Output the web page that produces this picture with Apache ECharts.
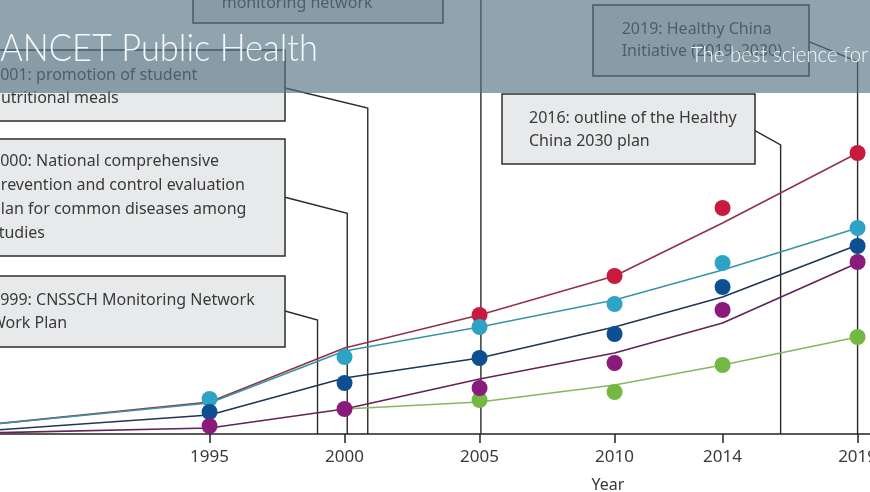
<!DOCTYPE html>
<html><head><meta charset="utf-8">
<script src="https://cdn.jsdelivr.net/npm/echarts@6/dist/echarts.min.js"></script>
<style>html,body{margin:0;padding:0;background:#fff;overflow:hidden}#c{width:870px;height:492px}</style>
</head><body><div id="c"></div>
<script>
// ---- data (hidden y unit: arbitrary, 0 at the axis) ----
const lineYears = [1985, 1995, 2000, 2005, 2010, 2014, 2019];
const redLine    = [0.45, 3.2, 8.6, 11.9, 15.8, 21.1, 28.1];
const cyanLine   = [0.45, 3.1, 8.3, 10.7, 13.4, 16.4, 20.6];
const navyLine   = [0.0, 1.9, 5.6, 7.6, 10.7, 13.7, 18.9];
const purpleLine = [0.0, 0.6, 2.5, 5.5, 8.1, 11.1, 17.1];
const greenLine  = [null, null, 2.5, 3.2, 4.9, 6.9, 9.7];

const dotYears   = [1995, 2000, 2005, 2010, 2014, 2019];
const redDots    = [null, null, 11.9, 15.8, 22.6, 28.1];
const cyanDots   = [3.5, 7.7, 10.7, 13.0, 17.1, 20.6];
const navyDots   = [2.2, 5.1, 7.6, 10.0, 14.7, 18.8];
const purpleDots = [0.8, 2.5, 4.6, 7.1, 12.4, 17.2];
const greenDots  = [null, null, 3.4, 4.2, 6.9, 9.7];

const tickYears = [1995, 2000, 2005, 2010, 2014, 2019];
const axisName = 'Year';

const eventTexts = [
  ['1999: CNSSCH Monitoring Network', 'Work Plan'],
  ['2000: National comprehensive', 'prevention and control evaluation', 'plan for common diseases among', 'studies'],
  ['2001: promotion of student', 'nutritional meals'],
  ['monitoring network'],
  ['2016: outline of the Healthy', 'China 2030 plan'],
  ['2019: Healthy China', 'Initiative (2019\u20132030)']
];
// where each event's leader drops to the axis (x in years, as drawn)
const eventAnchorYears = [1999, 2000.1, 2000.86, 2005.05, 2016.15, 2019];

const headerTitle = 'LANCET Public Health';
const headerTag = 'The best science for';

// ---- layout / styles ----
const FONT = '"Noto Sans", "Open Sans", sans-serif';
const boxLayout = [
  {x:-12, y:276, w:297, h:71,  tx:-9,    ty:300,   lh:23.4, from:[285,311],   bend:320},
  {x:-12, y:139, w:297, h:117, tx:-9,    ty:161.7, lh:23.9, from:[285,197.3], bend:213.3},
  {x:-12, y:50,  w:297, h:71,  tx:-9,    ty:75,    lh:23.4, from:[285,88],    bend:108},
  {x:193, y:-60, w:250, h:83,  tx:221.7, ty:3,     lh:23.4, from:null,        bend:-10},
  {x:502, y:94,  w:253, h:70,  tx:529,   ty:118.3, lh:23.4, from:[755,130.7], bend:145},
  {x:593, y:5,   w:216, h:71,  tx:621.7, ty:29.3,  lh:22.4, from:[809,41.7],  bend:61.7}
];

function pairs(xs, ys){ return xs.map((x,i)=>[x, ys[i]]).filter(p=>p[1]!=null); }
function lineSeries(name, ys, color){
  return {name, type:'line', data:pairs(lineYears, ys), symbol:'none', z:2,
    lineStyle:{color, width:1.6}, silent:true, clip:true};
}
function dotSeries(name, ys, color, z){
  return {name, type:'scatter', data:pairs(dotYears, ys), symbolSize:16, z,
    itemStyle:{color, opacity:1}, silent:true};
}

const chart = echarts.init(document.getElementById('c'), null, {renderer:'canvas'});
chart.setOption({
  animation:false,
  backgroundColor:'#ffffff',
  grid:{left:0, right:0, top:34, bottom:58, containLabel:false, outerBoundsMode:'none'},
  xAxis:{type:'value', min:1987.24, max:2019.46,
    axisLine:{show:true, onZero:false, lineStyle:{color:'#222', width:1.5}},
    axisTick:{show:true, customValues:tickYears, length:9, lineStyle:{color:'#222', width:1.5}},
    axisLabel:{customValues:tickYears, formatter:v=>String(Math.round(v)), fontSize:17,
      color:'#3a3a3a', margin:15, fontFamily:FONT, hideOverlap:false},
    splitLine:{show:false}},
  yAxis:{type:'value', min:0, max:40, show:false},
  series:[
    lineSeries('red trend', redLine, '#933247'),
    lineSeries('cyan trend', cyanLine, '#3a94a7'),
    lineSeries('navy trend', navyLine, '#203656'),
    lineSeries('purple trend', purpleLine, '#612456'),
    lineSeries('green trend', greenLine, '#88b660'),
    dotSeries('green', greenDots, '#73b843', 3),
    dotSeries('red', redDots, '#c8193f', 4),
    dotSeries('cyan', cyanDots, '#2fa3c6', 5),
    dotSeries('navy', navyDots, '#0d4f90', 6),
    dotSeries('purple', purpleDots, '#8a1b7b', 7)
  ]
});

const axisY = chart.convertToPixel({gridIndex:0}, [2000, 0])[1];
const graphics = [];
boxLayout.forEach((b, i) => {
  const ax = chart.convertToPixel({gridIndex:0}, [eventAnchorYears[i], 0])[0];
  const pts = b.from ? [b.from, [ax, b.bend], [ax, axisY]] : [[ax, b.bend], [ax, axisY]];
  graphics.push({type:'polyline', shape:{points:pts}, z:1, silent:true,
    style:{stroke:'#2a2a2a', lineWidth:1.4, fill:null}});
  graphics.push({type:'rect', shape:{x:b.x, y:b.y, width:b.w, height:b.h}, z:10, silent:true,
    style:{fill:'#e7e9eb', stroke:'#2e2e2e', lineWidth:1.5}});
  eventTexts[i].forEach((t, k) => {
    graphics.push({type:'text', z:11, silent:true,
      style:{text:t, x:b.tx, y:b.ty + k*b.lh, fill:'#3a3a3a', font:'16px ' + FONT,
        textAlign:'left', textVerticalAlign:'middle'}});
  });
});
// axis title
graphics.push({type:'text', z:11, silent:true,
  style:{text:axisName, x:608, y:485, fill:'#3a3a3a', font:'16px ' + FONT,
    textAlign:'center', textVerticalAlign:'middle'}});
// journal header band (semi-transparent overlay)
graphics.push({type:'rect', shape:{x:0, y:0, width:870, height:93}, z:100, silent:true,
  style:{fill:'rgba(85,115,132,0.65)'}});
graphics.push({type:'text', z:101, silent:true, x:318, y:49, scaleX:0.93,
  style:{text:headerTitle, x:0, y:0, fill:'#f4f7f8', font:'300 37px Lato, "Open Sans", sans-serif',
    textAlign:'right', textVerticalAlign:'middle'}});
graphics.push({type:'text', z:101, silent:true, x:691, y:55, scaleX:0.97,
  style:{text:headerTag, x:0, y:0, fill:'#f4f7f8', font:'300 21px Lato, "Open Sans", sans-serif',
    textAlign:'left', textVerticalAlign:'middle'}});
chart.setOption({graphic:{elements:graphics}});
</script>
</body></html>
